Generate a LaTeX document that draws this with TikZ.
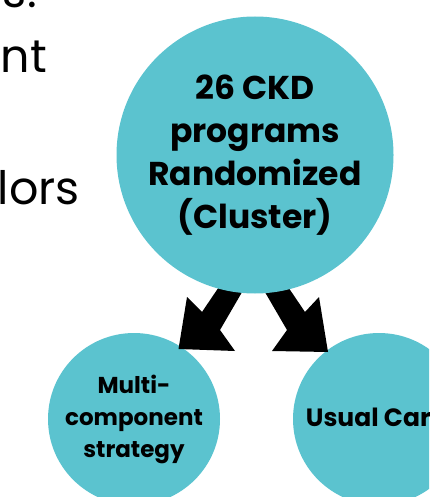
\documentclass[tikz,border=0pt]{standalone}
\usepackage{fontspec}
\setmainfont{Poppins}
\newfontfamily\boldfont{Poppins}[UprightFont=* Bold]
\definecolor{teal1}{RGB}{91,195,207}
\tikzset{
  bigcirc/.style={circle, fill=teal1, inner sep=0pt, minimum size=277pt, align=center,
    font=\boldfont\fontsize{33}{43}\selectfont},
  smallcirc/.style={circle, fill=teal1, inner sep=0pt, minimum size=172pt, align=center,
    font=\boldfont\fontsize{23}{32}\selectfont},
  blockarrow/.style={fill=black},
  sidetext/.style={anchor=base east, inner sep=0pt, font=\fontsize{46}{50}\selectfont}
}
\begin{document}
\begin{tikzpicture}[x=1pt,y=-1pt]
\useasboundingbox (0,0) rectangle (429,497);
\clip (0,0) rectangle (429,497);
% side text fragments
\node[sidetext] (t1) at (37,8) {s:};
\node[sidetext] (t2) at (47,73) {nt};
\node[sidetext] (t3) at (80,204) {lors};
% lower circles
\node[smallcirc] (multi) at (134,419) {Multi-\\component\\strategy};
\node[smallcirc] (usual) at (379,419) {};
\node[font=\boldfont\fontsize{25}{30}\selectfont, inner sep=0pt] (usualtxt) at (376,417) {Usual Care};
% block arrows
\coordinate (la1) at (227,275); \coordinate (la2) at (202,312); \coordinate (la3) at (187,297);
\coordinate (la4) at (178.5,349); \coordinate (la5) at (235,351); \coordinate (la6) at (220,330);
\coordinate (la7) at (252,275);
\fill[blockarrow] (la1) -- (la2) -- (la3) -- (la4) -- (la5) -- (la6) -- (la7) -- cycle;
\coordinate (ra1) at (280,275); \coordinate (ra2) at (305,312); \coordinate (ra3) at (319,297);
\coordinate (ra4) at (328,352); \coordinate (ra5) at (272,351); \coordinate (ra6) at (287,330);
\coordinate (ra7) at (255,275);
\fill[blockarrow] (ra1) -- (ra2) -- (ra3) -- (ra4) -- (ra5) -- (ra6) -- (ra7) -- cycle;
% big circle
\node[bigcirc] (big) at (255,155) {26 CKD\\programs\\Randomized\\(Cluster)};
\end{tikzpicture}
\end{document}
